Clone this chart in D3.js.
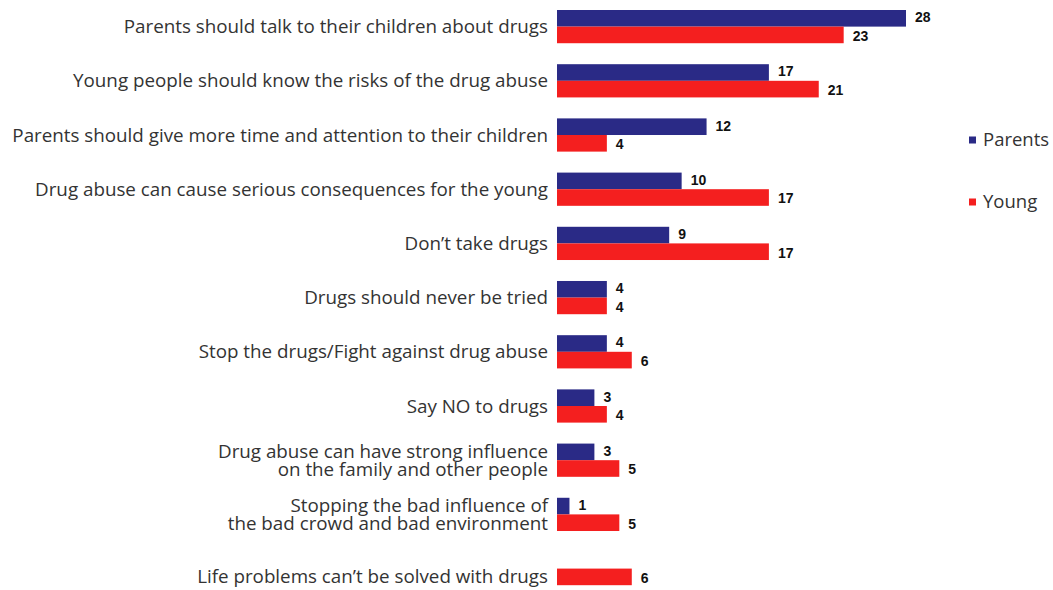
<!DOCTYPE html>
<html>
<head>
<meta charset="utf-8">
<script src="https://cdn.jsdelivr.net/npm/d3@7"></script>
<style>
  html, body { margin: 0; padding: 0; background: #ffffff; }
  svg { display: block; }
</style>
</head>
<body>
<svg id="chart" width="1053" height="590"></svg>
<script>
// Survey answers, one entry per row (lines split for wrapped labels)
const categories = [
  ["Parents should talk to their children about drugs"],
  ["Young people should know the risks of the drug abuse"],
  ["Parents should give more time and attention to their children"],
  ["Drug abuse can cause serious consequences for the young"],
  ["Don\u2019t take drugs"],
  ["Drugs should never be tried"],
  ["Stop the drugs/Fight against drug abuse"],
  ["Say NO to drugs"],
  ["Drug abuse can have strong influence", "on the family and other people"],
  ["Stopping the bad influence of", "the bad crowd and bad environment"],
  ["Life problems can\u2019t be solved with drugs"]
];
const seriesNames = ["Parents", "Young"];
const parentsValues = [28, 17, 12, 10, 9, 4, 4, 3, 3, 1, null];
const youngValues   = [23, 21, 4, 17, 17, 4, 6, 4, 5, 5, 6];
const seriesColors = ["#2a2a86", "#f41f1f"];

const svg = d3.select("#chart");
const keys = categories.map((c, i) => "c" + i);

const x = d3.scaleLinear().domain([0, 28]).range([557, 906]);
const y = d3.scaleBand().domain(keys).range([10, 585.2]).paddingInner(0.387).paddingOuter(0);
const ySub = d3.scaleBand().domain(seriesNames).range([0, y.bandwidth()]);

const rows = categories.map((lines, i) => ({
  key: keys[i],
  lines,
  values: [parentsValues[i], youngValues[i]]
}));

// Vertical centre of a row's label: the pair of bars, or the single bar when one is missing
function labelCenter(d) {
  const present = seriesNames.filter((s, k) => d.values[k] != null);
  if (present.length === 1) return y(d.key) + ySub(present[0]) + ySub.bandwidth() / 2;
  return y(d.key) + y.bandwidth() / 2;
}

// Category labels, right-aligned against the bars
const labelFont = "'Open Sans', 'Noto Sans', sans-serif";
const lab = svg.append("g").selectAll("text").data(rows).join("text")
  .attr("x", 548)
  .attr("text-anchor", "end")
  .attr("font-family", labelFont)
  .attr("font-size", 18.8)
  .attr("fill", "#333333")
  .attr("transform", d => `translate(0, ${labelCenter(d)})`);
lab.each(function(d) {
  const n = d.lines.length;
  const lh = 18;
  d3.select(this).selectAll("tspan").data(d.lines).join("tspan")
    .attr("x", 548)
    .attr("y", (l, j) => (j - (n - 1) / 2) * lh)
    .attr("dy", "0.35em")
    .text(l => l);
});

// Bars and value labels
const groups = svg.append("g").selectAll("g").data(rows).join("g")
  .attr("transform", d => `translate(0, ${y(d.key)})`);

const cells = groups.selectAll("g").data(d => d.values.map((v, k) => ({ v, k, s: seriesNames[k] })).filter(e => e.v != null))
  .join("g");

cells.append("rect")
  .attr("x", x(0))
  .attr("y", e => ySub(e.s))
  .attr("width", e => x(e.v) - x(0))
  .attr("height", ySub.bandwidth())
  .attr("fill", e => seriesColors[e.k]);

cells.append("text")
  .attr("x", e => x(e.v) + 9)
  .attr("y", e => ySub(e.s) + ySub.bandwidth() / 2 + (e.k === 0 ? -1 : 1))
  .attr("dy", "0.35em")
  .attr("font-family", "'Liberation Sans', Arial, sans-serif")
  .attr("font-weight", "bold")
  .attr("font-size", 14)
  .attr("fill", "#111111")
  .text(e => e.v);

// Legend
const legend = svg.append("g").selectAll("g").data(seriesNames).join("g")
  .attr("transform", (s, i) => `translate(969, ${140 + i * 62})`);
legend.append("rect")
  .attr("x", 0).attr("y", -3.5).attr("width", 7).attr("height", 7)
  .attr("fill", (s, i) => seriesColors[i]);
legend.append("text")
  .attr("x", 14)
  .attr("dy", "0.35em")
  .attr("font-family", labelFont)
  .attr("font-size", 18.5)
  .attr("fill", "#333333")
  .text(s => s);
</script>
</body>
</html>
